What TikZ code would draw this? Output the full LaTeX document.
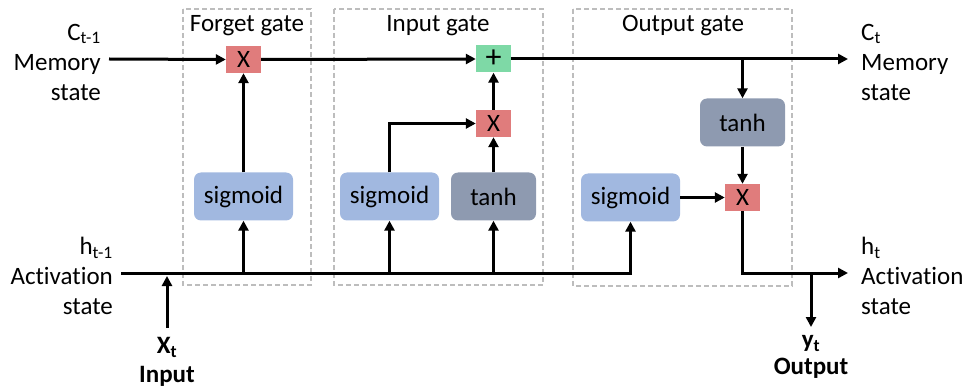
\documentclass[tikz,border=0pt]{standalone}
\usepackage{fontspec}
\setmainfont{Carlito}[Ligatures=NoCommon]
\usetikzlibrary{arrows.meta}
\definecolor{mulred}{HTML}{E07C7C}
\definecolor{addgreen}{HTML}{7ED9A6}
\definecolor{sigblue}{HTML}{A1B8E0}
\definecolor{tanhgray}{HTML}{8E9AB0}
\definecolor{gatedash}{HTML}{BDBDBD}
\begin{document}
\begin{tikzpicture}[x=1pt,y=-1pt,
  every node/.style={font=\fontsize{25}{30}\selectfont, inner sep=0pt},
  opbox/.style={minimum width=35pt, minimum height=27pt},
  mulbox/.style={opbox, fill=mulred},
  addbox/.style={opbox, fill=addgreen, font=\fontsize{32}{32}\selectfont},
  sigbox/.style={fill=sigblue, rounded corners=7pt, minimum width=99pt, minimum height=48pt},
  tanhbox/.style={fill=tanhgray, rounded corners=7pt, minimum width=85pt, minimum height=48pt},
  gatebox/.style={draw=gatedash, line width=1.3pt, dash pattern=on 5pt off 3pt},
  arr/.style={line width=3pt, -{Triangle[length=10pt,width=10pt]}},
  ln/.style={line width=3pt}]
\useasboundingbox (0,0) rectangle (963,387);
% gate boxes
\draw[gatebox] (183,9) rectangle (311,285);
\draw[gatebox] (334,9) rectangle (543,285);
\draw[gatebox] (573,9) rectangle (792,286);
\node (tforget) at (247,26) {Forget gate};
\node (tinput) at (438,26) {Input gate};
\node (toutput) at (683,26) {Output gate};
% operation nodes
\node[mulbox] (fx) at (243.5,59.5) {X};
\node[addbox] (plus) at (493.5,59) {+};
\node[mulbox] (ix) at (493.5,123.5) {X};
\node[mulbox] (ox) at (742.5,197.5) {X};
\node[sigbox] (fsig) at (243.5,196.5) {sigmoid};
\node[sigbox] (isig) at (389.5,196.5) {sigmoid};
\node[tanhbox] (itanh) at (493.5,196.5) {tanh};
\node[tanhbox] (otanh) at (742.5,122.5) {tanh};
\node[sigbox] (osig) at (630.5,197.5) {sigmoid};
% end points
\coordinate (cin) at (109,59);
\coordinate (cout) at (848,59);
\coordinate (hin) at (121,273);
\coordinate (hout) at (848,273);
\coordinate (xin) at (167,328);
\coordinate (xend) at (167,276);
\coordinate (yout) at (811,327);
% labels
\node[align=right, anchor=east] (lmem) at (101,62) {C\textsubscript{t-1}\\Memory\\state};
\node[align=right, anchor=east] (lact) at (113,276) {h\textsubscript{t-1}\\Activation\\state};
\node[align=left, anchor=west] (rmem) at (861,62) {C\textsubscript{t}\\Memory\\state};
\node[align=left, anchor=west] (ract) at (861,276) {h\textsubscript{t}\\Activation\\state};
\node[align=center, anchor=north, font=\fontsize{25}{29}\selectfont\bfseries] (lx) at (167,337) {X\textsubscript{t}\\Input};
\node[align=center, anchor=north, font=\fontsize{25}{27}\selectfont\bfseries] (ly) at (811,335) {y\textsubscript{t}\\Output};
% memory line
\draw[arr] (cin) -- (fx.west);
\draw[arr] (fx.east) -- (plus.west);
\draw[arr] (plus.east) -- (cout);
\draw[arr] (fsig.north) -- (fx.south);
% activation line
\draw[arr] (hin) -| (osig.south);
\draw[arr] (fsig.south |- hin) -- (fsig.south);
\draw[arr] (isig.south |- hin) -- (isig.south);
\draw[arr] (itanh.south |- hin) -- (itanh.south);
\draw[arr] (xin) -- (xend);
% input gate
\draw[arr] (isig.north) |- (ix.west);
\draw[arr] (itanh.north) -- (ix.south);
\draw[arr] (ix.north) -- (plus.south);
% output gate
\draw[arr] (otanh.north |- cin) -- (otanh.north);
\draw[arr] (otanh.south) -- (ox.north);
\draw[arr] (osig.east) -- (ox.west);
\draw[arr] (ox.south) |- (hout);
\draw[arr] (yout |- hout) -- (yout);
\end{tikzpicture}
\end{document}
